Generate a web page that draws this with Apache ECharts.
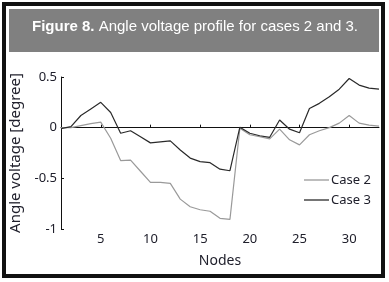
<!DOCTYPE html>
<html>
<head>
<meta charset="utf-8">
<script src="https://cdn.jsdelivr.net/npm/echarts@6/dist/echarts.min.js"></script>
<style>
  html, body { margin: 0; padding: 0; background: #fff; }
  #chart { width: 389px; height: 282px; }
</style>
</head>
<body>
<div id="chart"></div>
<script>
// nodes 1..33
const nodes = [];
for (let i = 1; i <= 33; i++) nodes.push(String(i));

const case2 = [0, 0, 0.02, 0.04, 0.055, -0.105, -0.325, -0.32, -0.43, -0.54, -0.54, -0.55,
  -0.705, -0.78, -0.81, -0.825, -0.895, -0.905, -0.005, -0.07, -0.09, -0.11, -0.015,
  -0.12, -0.17, -0.07, -0.03, 0, 0.045, 0.12, 0.045, 0.025, 0.015];

const case3 = [-0.01, 0.01, 0.12, 0.185, 0.25, 0.15, -0.055, -0.03, -0.09, -0.15, -0.14, -0.13,
  -0.22, -0.3, -0.335, -0.345, -0.41, -0.425, 0.005, -0.055, -0.08, -0.095, 0.075,
  -0.015, -0.05, 0.19, 0.24, 0.305, 0.38, 0.485, 0.42, 0.39, 0.38];

const yTicks = { min: -1, max: 0.5, step: 0.5 };

const txt = '#20202c';
const font = 'Noto Sans';

const myChart = echarts.init(document.getElementById('chart'));

const showEvery5 = (idx) => (idx + 1) % 5 === 0;

const option = {
  animation: false,
  textStyle: { fontFamily: font },
  graphic: [
    {
      type: 'rect',
      shape: { x: 4, y: 4, width: 379, height: 272 },
      style: { fill: 'none', stroke: '#111', lineWidth: 4 }
    },
    {
      type: 'rect',
      shape: { x: 9, y: 9, width: 370, height: 43 },
      style: { fill: '#808080' }
    },
    {
      type: 'text',
      left: 32,
      top: 19,
      style: {
        text: '{b|Figure 8.} Angle voltage profile for cases 2 and 3.',
        fill: '#fff',
        font: '15px "Liberation Sans"',
        rich: {
          b: { fontWeight: 'bold', fontSize: 15, fontFamily: 'Liberation Sans', fill: '#fff' }
        }
      }
    }
  ],
  legend: {
    orient: 'vertical',
    left: 299,
    top: 168,
    icon: 'rect',
    itemWidth: 25,
    itemHeight: 1.3,
    itemGap: 6,
    textStyle: { fontSize: 13, lineHeight: 14, color: txt, fontFamily: font, padding: [0, 0, 0, -3] },
    data: ['Case 2', 'Case 3']
  },
  grid: { left: 54, right: 10, top: 77, bottom: 53 },
  xAxis: {
    type: 'category',
    data: nodes,
    boundaryGap: false,
    name: 'Nodes',
    nameLocation: 'middle',
    nameGap: 25,
    nameTextStyle: { fontSize: 14, color: txt, fontFamily: font },
    axisLine: { lineStyle: { color: '#111', width: 1 } },
    axisTick: { inside: true, length: 3, interval: showEvery5, lineStyle: { color: '#111' } },
    axisLabel: { interval: showEvery5, fontSize: 13, color: txt, margin: 4 },
    splitLine: { show: false }
  },
  yAxis: {
    type: 'value',
    min: yTicks.min,
    max: yTicks.max,
    interval: yTicks.step,
    name: 'Angle voltage [degree]',
    nameLocation: 'middle',
    nameGap: 38,
    nameTextStyle: { fontSize: 15, color: txt, fontFamily: font },
    axisLine: { show: true, lineStyle: { color: '#111', width: 1 } },
    axisTick: { show: true, inside: true, length: 3, lineStyle: { color: '#111' } },
    axisLabel: { fontSize: 13, color: txt, margin: 4 },
    splitLine: { show: false }
  },
  series: [
    {
      name: 'Case 2',
      type: 'line',
      data: case2,
      showSymbol: false,
      color: '#9a9a9a',
      lineStyle: { width: 1.2, color: '#9a9a9a' }
    },
    {
      name: 'Case 3',
      type: 'line',
      data: case3,
      showSymbol: false,
      color: '#2a2a2a',
      lineStyle: { width: 1.2, color: '#2a2a2a' }
    }
  ]
};

myChart.setOption(option);
</script>
</body>
</html>
